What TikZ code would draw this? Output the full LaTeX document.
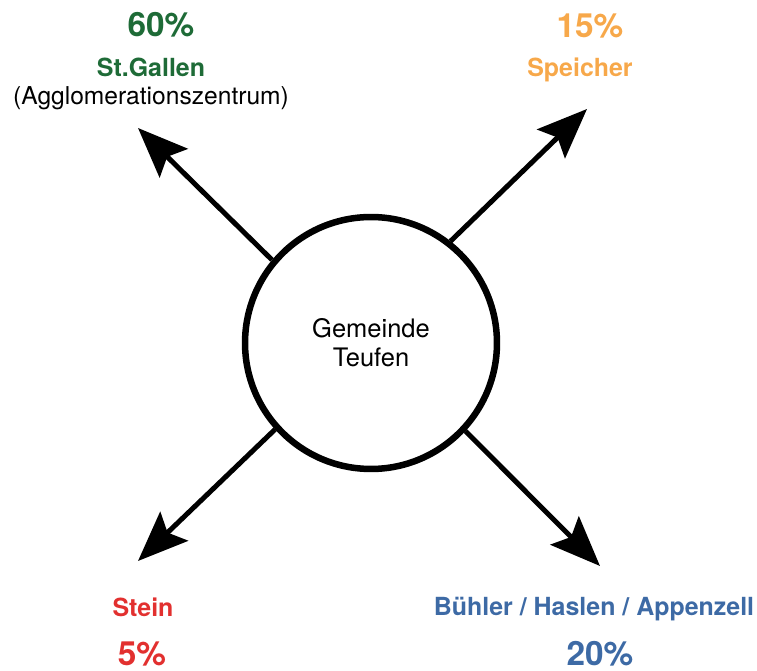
\documentclass[tikz,border=0pt]{standalone}
\usepackage{fontspec}
\setmainfont{TeX Gyre Heros}
\usepackage{xcolor}
\usetikzlibrary{arrows.meta}

\definecolor{sgGreen}{HTML}{1E6B37}
\definecolor{spOrange}{HTML}{F7A84A}
\definecolor{stRed}{HTML}{E2302F}
\definecolor{bhaBlue}{HTML}{3D6AA5}

\begin{document}
\begin{tikzpicture}[x=0.02cm, y=-0.02cm,
  pct/.style={font=\bfseries\fontsize{19}{22}\selectfont, anchor=base, inner sep=0},
  lbl/.style={font=\bfseries\fontsize{14.2}{17}\selectfont, anchor=base, inner sep=0},
  arr/.style={line width=0.1cm, -{Stealth[length=1cm, width=0.8cm, inset=0.18cm]}}]
\useasboundingbox (0,0) rectangle (757,671);
\node[circle,draw,line width=0.13cm,minimum size=5.04cm,inner sep=0,align=center,font=\fontsize{14.5}{16.5}\selectfont] (gt) at (371,343) {Gemeinde\\Teufen};
\coordinate (tipSG) at (138,128);
\coordinate (tipSp) at (587,109);
\coordinate (tipSt) at (138,561);
\coordinate (tipBHA) at (600,566);
\draw[arr] (gt.140) -- (tipSG);
\draw[arr] (gt.52) -- (tipSp);
\draw[arr] (gt.222) -- (tipSt);
\draw[arr] (gt.-43) -- (tipBHA);
\node[pct, sgGreen] (pSG) at (161,37) {60\%};
\node[lbl, sgGreen] (nSG) at (151,77) {St.Gallen};
\node[anchor=base, inner sep=0, font=\fontsize{14}{17}\selectfont] (zSG) at (151,105) {(Agglomerationszentrum)};
\node[pct, spOrange] (pSp) at (590,38) {15\%};
\node[lbl, spOrange] (nSp) at (580,77) {Speicher};
\node[lbl, stRed] (nSt) at (143,617) {Stein};
\node[pct, stRed] (pSt) at (142,665) {5\%};
\node[lbl, bhaBlue] (nBHA) at (594,616) {Bühler / Haslen / Appenzell};
\node[pct, bhaBlue] (pBHA) at (600,665) {20\%};
\end{tikzpicture}
\end{document}
